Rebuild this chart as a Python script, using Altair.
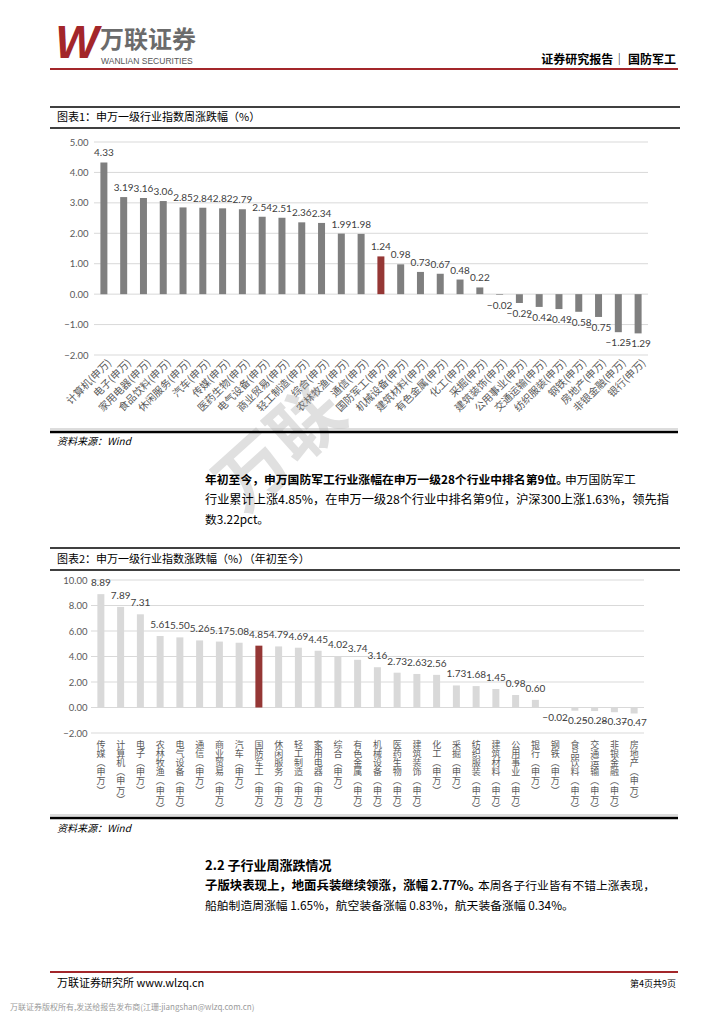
import altair as alt
import pandas as pd

# ---------------- data ----------------
cats1 = ["计算机", "电子", "家用电器", "食品饮料", "休闲服务", "汽车", "传媒", "医药生物",
         "电气设备", "商业贸易", "轻工制造", "综合", "农林牧渔", "通信", "国防军工", "机械设备",
         "建筑材料", "有色金属", "化工", "采掘", "建筑装饰", "公用事业", "交通运输", "纺织服装",
         "钢铁", "房地产", "非银金融", "银行"]
vals1 = [4.33, 3.19, 3.16, 3.06, 2.85, 2.84, 2.82, 2.79, 2.54, 2.51, 2.36, 2.34, 1.99, 1.98,
         1.24, 0.98, 0.73, 0.67, 0.48, 0.22, -0.02, -0.29, -0.42, -0.49, -0.58, -0.75, -1.25, -1.29]

cats2 = ["传媒", "计算机", "电子", "农林牧渔", "电气设备", "通信", "商业贸易", "汽车", "国防军工",
         "休闲服务", "轻工制造", "家用电器", "综合", "有色金属", "机械设备", "医药生物", "建筑装饰",
         "化工", "采掘", "纺织服装", "建筑材料", "公用事业", "银行", "钢铁", "食品饮料", "交通运输",
         "非银金融", "房地产"]
vals2 = [8.89, 7.89, 7.31, 5.61, 5.50, 5.26, 5.17, 5.08, 4.85, 4.79, 4.69, 4.45, 4.02, 3.74,
         3.16, 2.73, 2.63, 2.56, 1.73, 1.68, 1.45, 0.98, 0.60, -0.02, -0.25, -0.28, -0.37, -0.47]

ticks1 = [-2, -1, 0, 1, 2, 3, 4, 5]
ticks2 = [-2, 0, 2, 4, 6, 8, 10]
highlight = "国防军工"
suffix = "(申万)"

# ---------------- styling ----------------
CJK = "Noto Sans CJK SC"
NUM = "Lato"
RED = "#953735"
W, H = 708, 1008
OX, OY = 8, 8


def px(x):
    return x - OX


def py(y):
    return y - OY


X1 = (px(94), px(648))
Y1 = (py(355), py(142))
X2 = (px(91), px(644))
Y2 = (py(733), py(580))

df1 = pd.DataFrame({"cat": [c + suffix for c in cats1], "val": vals1})
df2 = pd.DataFrame({"cat": [c + suffix for c in cats2], "val": vals2})
dom1 = [c + suffix for c in cats1]
dom2 = [c + suffix for c in cats2]
hl_test = f"datum.cat == '{highlight}{suffix}'"


def enc_x1():
    return alt.X("cat:N", sort=None, title=None,
                 scale=alt.Scale(domain=dom1, range=list(X1), paddingInner=0, paddingOuter=0),
                 axis=alt.Axis(orient="bottom", offset=-(H - Y1[0]), labelAngle=-45,
                               labelAlign="right", labelBaseline="middle", labelPadding=6,
                               labelOffset=6, labelFont=CJK, labelFontSize=10.3,
                               labelColor="#595959", domain=False, ticks=False, grid=False,
                               labelOverlap=False))


def enc_y1(field):
    return alt.Y(field, title=None,
                 scale=alt.Scale(domain=[-2, 5], range=[Y1[0], Y1[1]], nice=False, zero=False),
                 axis=alt.Axis(orient="left", offset=-X1[0], values=ticks1, format=".2f",
                               domain=False, ticks=False, grid=False, labelPadding=6,
                               labelFont=NUM, labelFontSize=9.5, labelColor="#595959"))


def enc_x2():
    return alt.X("cat:N", sort=None, title=None,
                 scale=alt.Scale(domain=dom2, range=list(X2), paddingInner=0, paddingOuter=0),
                 axis=alt.Axis(orient="bottom", offset=-(H - Y2[0]), labelAngle=0,
                               labelAlign="center", labelBaseline="top", labelPadding=7,
                               labelFont=CJK, labelFontSize=9, labelLineHeight=9.2,
                               labelExpr="split(replace(replace(datum.label, '(', '︵'), ')', '︶'), '')",
                               labelColor="#595959", domain=False, ticks=False, grid=False,
                               labelOverlap=False))


def enc_y2(field):
    return alt.Y(field, title=None,
                 scale=alt.Scale(domain=[-2, 10], range=[Y2[0], Y2[1]], nice=False, zero=False),
                 axis=alt.Axis(orient="left", offset=-X2[0], values=ticks2, format=".2f",
                               domain=False, ticks=False, grid=False, labelPadding=4,
                               labelFont=NUM, labelFontSize=9.5, labelColor="#595959"))


# ---------------- chart 1 ----------------
grid1 = alt.Chart(pd.DataFrame({"t": ticks1})).mark_rule(color="#d9d9d9", strokeWidth=1).encode(
    y=enc_y1("t:Q"), x=alt.value(X1[0]), x2=alt.value(X1[1]))
bars1 = alt.Chart(df1).mark_bar(size=7).encode(
    x=enc_x1(), y=enc_y1("val:Q"),
    color=alt.condition(hl_test, alt.value(RED), alt.value("#7f7f7f")))
lab1p = alt.Chart(df1).transform_filter("datum.val >= 0").mark_text(
    baseline="bottom", dy=-4, font=NUM, fontSize=10, color="#404040").encode(
    x=enc_x1(), y=enc_y1("val:Q"), text=alt.Text("val:Q", format=".2f"))
lab1n = alt.Chart(df1).transform_filter("datum.val < 0").mark_text(
    baseline="top", dy=6, font=NUM, fontSize=10, color="#404040").encode(
    x=enc_x1(), y=enc_y1("val:Q"), text=alt.Text("val:Q", format=".2f"))
chart1 = alt.layer(grid1, bars1, lab1p, lab1n)

# ---------------- chart 2 ----------------
grid2 = alt.Chart(pd.DataFrame({"t": ticks2})).mark_rule(color="#d9d9d9", strokeWidth=1).encode(
    y=enc_y2("t:Q"), x=alt.value(X2[0]), x2=alt.value(X2[1]))
bars2 = alt.Chart(df2).mark_bar(size=7).encode(
    x=enc_x2(), y=enc_y2("val:Q"),
    color=alt.condition(hl_test, alt.value(RED), alt.value("#d9d9d9")))
lab2p = alt.Chart(df2).transform_filter("datum.val >= 0").mark_text(
    baseline="bottom", dy=-6, font=NUM, fontSize=10, color="#404040").encode(
    x=enc_x2(), y=enc_y2("val:Q"), text=alt.Text("val:Q", format=".2f"))
lab2n = alt.Chart(df2).transform_filter("datum.val < 0").mark_text(
    baseline="top", dy=5, font=NUM, fontSize=10, color="#404040").encode(
    x=enc_x2(), y=enc_y2("val:Q"), text=alt.Text("val:Q", format=".2f"))
chart2 = alt.layer(grid2, bars2, lab2p, lab2n)

# ---------------- page decorations ----------------
dummy = pd.DataFrame({"d": [0]})


def txt(x, y, s, size=11, weight="normal", align="left", color="#000000", font=CJK,
        style="normal", baseline="middle", angle=0, opacity=1.0):
    return alt.Chart(dummy).mark_text(
        text=s, fontSize=size, fontWeight=weight, align=align, color=color, font=font,
        fontStyle=style, baseline=baseline, angle=angle, opacity=opacity).encode(
        x=alt.value(px(x)), y=alt.value(py(y)))


def hline(x1, x2, y, color="#000000", w=1.0):
    return alt.Chart(dummy).mark_rule(color=color, strokeWidth=w).encode(
        x=alt.value(px(x1)), x2=alt.value(px(x2)), y=alt.value(py(y)))


BODY = 11.8
decor = [
    # watermark
    txt(282, 450, "万联", size=72, weight="bold", color="#9a9a9a", angle=318, opacity=0.3,
        align="center"),
    # header
    txt(77, 44, "W", size=46, weight="bold", style="italic", color="#a3262a",
        font="Liberation Sans", align="center"),
    txt(100, 41, "万联证券", size=24, weight="bold", color="#6b6b6b"),
    txt(101, 61, "WANLIAN SECURITIES", size=8.5, color="#555555", font="Liberation Sans"),
    txt(676, 60, "证券研究报告│ 国防军工", size=12, weight="bold", align="right"),
    hline(50, 678, 69, "#a3262a", 2),
    # chart 1 frame
    hline(50, 680, 107, "#000000", 1.5),
    txt(57, 117.5, "图表1：申万一级行业指数周涨跌幅（%）", size=11),
    hline(50, 680, 128, "#000000", 1.5),
    hline(50, 678, 429, "#bbbbbb", 1),
    hline(50, 678, 432, "#000000", 2.5),
    txt(57, 442, "资料来源：Wind", size=10, style="italic"),
    # paragraph
    txt(205, 480, "年初至今，申万国防军工行业涨幅在申万一级28个行业中排名第9位。", size=BODY,
        weight="bold"),
    txt(565, 480, "申万国防军工", size=BODY),
    txt(205, 500, "行业累计上涨4.85%，在申万一级28个行业中排名第9位，沪深300上涨1.63%，领先指",
        size=12.2),
    txt(205, 520, "数3.22pct。", size=BODY),
    # chart 2 frame
    hline(50, 680, 548, "#000000", 1.5),
    txt(57, 560, "图表2：申万一级行业指数涨跌幅（%）（年初至今）", size=11),
    hline(50, 680, 570, "#000000", 1.5),
    hline(50, 678, 815, "#bbbbbb", 1),
    hline(50, 678, 818, "#000000", 2.5),
    txt(57, 829, "资料来源：Wind", size=10, style="italic"),
    # section 2.2
    txt(205, 866, "2.2 子行业周涨跌情况", size=13, weight="bold"),
    txt(205, 886, "子版块表现上，地面兵装继续领涨，涨幅 2.77%。", size=12.4, weight="bold"),
    txt(478, 886, "本周各子行业皆有不错上涨表现，", size=BODY),
    txt(205, 906, "船舶制造周涨幅 1.65%，航空装备涨幅 0.83%，航天装备涨幅 0.34%。", size=BODY),
    # footer
    hline(50, 678, 972, "#a3262a", 2),
    txt(57, 984, "万联证券研究所 www.wlzq.cn", size=11),
    txt(676, 984, "第4页共9页", size=9, align="right"),
    txt(10, 1008, "万联证券版权所有,发送给报告发布商(江珊:jiangshan@wlzq.com.cn)", size=8,
        color="#9a9a9a"),
]

chart = alt.layer(*decor, chart1, chart2).resolve_scale(
    x="independent", y="independent"
).properties(
    width=W, height=H, padding=0,
    autosize=alt.AutoSizeParams(type="none"),
).configure_view(stroke=None)

chart.save("out.html", embed_options={"renderer": "svg", "actions": False})
